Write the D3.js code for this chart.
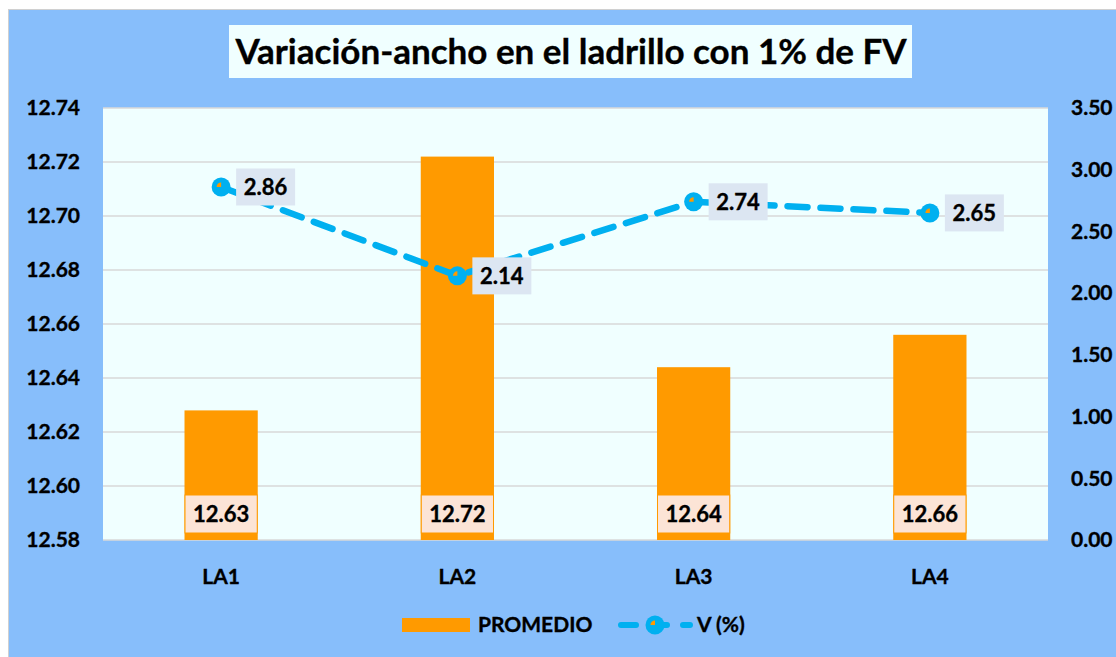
<!DOCTYPE html>
<html>
<head>
<meta charset="utf-8">
<script src="https://cdn.jsdelivr.net/npm/d3@7"></script>
<style>
  body { margin: 0; background: #fff; }
  text { font-family: Lato, "Open Sans", sans-serif; font-weight: bold; fill: #000; stroke: #000; stroke-width: 0.35px; }
</style>
</head>
<body>
<svg id="chart" width="1116" height="657"></svg>
<script>
// chart data
var categories = ["LA1", "LA2", "LA3", "LA4"];
var promedio = [12.628, 12.722, 12.644, 12.656];
var promedioLabels = ["12.63", "12.72", "12.64", "12.66"];
var variacion = [2.86, 2.14, 2.74, 2.65];
var leftTicks = [12.58, 12.60, 12.62, 12.64, 12.66, 12.68, 12.70, 12.72, 12.74];
var rightTicks = [0, 0.5, 1, 1.5, 2, 2.5, 3, 3.5];

var svg = d3.select("#chart");
var plot = { left: 103, right: 1048, top: 108, bottom: 540 };
var orange = "#FF9A00", blue = "#00B0F0";

// background + frame
svg.append("rect").attr("x", 8.5).attr("y", 9.5).attr("width", 1120).attr("height", 660)
  .attr("fill", "#87BEFB").attr("stroke", "#D0D0D0");
svg.append("rect").attr("x", plot.left).attr("y", plot.top)
  .attr("width", plot.right - plot.left).attr("height", plot.bottom - plot.top)
  .attr("fill", "#F0FFFF");

// title
svg.append("rect").attr("x", 229).attr("y", 25).attr("width", 683).attr("height", 53).attr("fill", "#F0FFFF");
svg.append("text").attr("x", 571).attr("y", 64).attr("text-anchor", "middle")
  .style("font-size", "35px").text("Variación-ancho en el ladrillo con 1% de FV");

var x = d3.scaleBand().domain(categories).range([plot.left, plot.right])
  .paddingInner(0.69).paddingOuter(0.345);
var yL = d3.scaleLinear().domain([12.58, 12.74]).range([plot.bottom, plot.top]);
var yR = d3.scaleLinear().domain([0, 3.5]).range([plot.bottom, plot.top]);

// gridlines
svg.append("g").selectAll("line").data(leftTicks).enter().append("line")
  .attr("x1", plot.left).attr("x2", plot.right)
  .attr("y1", function(d) { return yL(d); }).attr("y2", function(d) { return yL(d); })
  .attr("stroke", "#D9D9D9").attr("stroke-width", 1.5);

// axes
var axL = svg.append("g").attr("transform", "translate(" + plot.left + ",0)")
  .call(d3.axisLeft(yL).tickValues(leftTicks).tickFormat(d3.format(".2f")).tickSize(0).tickPadding(23));
var axR = svg.append("g").attr("transform", "translate(" + plot.right + ",0)")
  .call(d3.axisRight(yR).tickValues(rightTicks).tickFormat(d3.format(".2f")).tickSize(0).tickPadding(23));
var axB = svg.append("g").attr("transform", "translate(0," + plot.bottom + ")")
  .call(d3.axisBottom(x).tickSize(0).tickPadding(29));
[axL, axR, axB].forEach(function(a) {
  a.select(".domain").remove();
  a.selectAll("text").style("font-size", "21px").style("font-family", null).attr("fill", "#000");
});

// bars
svg.append("g").selectAll("rect").data(promedio).enter().append("rect")
  .attr("x", function(d, i) { return x(categories[i]); })
  .attr("y", function(d) { return yL(d); })
  .attr("width", x.bandwidth())
  .attr("height", function(d) { return plot.bottom - yL(d); })
  .attr("fill", orange);

// bar labels
var bl = svg.append("g").selectAll("g").data(promedioLabels).enter().append("g")
  .attr("transform", function(d, i) { return "translate(" + (x(categories[i]) + x.bandwidth() / 2) + ",514)"; });
bl.append("rect").attr("x", -x.bandwidth() / 2 + 0.5).attr("y", -19).attr("width", x.bandwidth() - 1).attr("height", 38)
  .attr("fill", "#FCE4D6").attr("stroke", orange).attr("stroke-width", 1);
bl.append("text").attr("text-anchor", "middle").attr("y", 8).style("font-size", "22px").text(function(d) { return d; });

// line
var line = d3.line()
  .x(function(d, i) { return x(categories[i]) + x.bandwidth() / 2; })
  .y(function(d) { return yR(d); });
svg.append("path").datum(variacion).attr("d", line)
  .attr("fill", "none").attr("stroke", blue).attr("stroke-width", 6.5)
  .attr("stroke-linecap", "round").attr("stroke-dasharray", "20,13");

function marker(g) {
  g.append("circle").attr("r", 9.5).attr("fill", blue);
  g.append("path").attr("d", d3.arc().innerRadius(0).outerRadius(4.5).startAngle(-Math.PI / 2).endAngle(0)())
    .attr("fill", orange);
}
var pts = svg.append("g").selectAll("g").data(variacion).enter().append("g")
  .attr("transform", function(d, i) { return "translate(" + (x(categories[i]) + x.bandwidth() / 2) + "," + yR(d) + ")"; });
pts.each(function() { marker(d3.select(this)); });

// line labels
var ll = svg.append("g").selectAll("g").data(variacion).enter().append("g")
  .attr("transform", function(d, i) { return "translate(" + (x(categories[i]) + x.bandwidth() / 2 + 15) + "," + yR(d) + ")"; });
ll.append("rect").attr("x", 0).attr("y", -18.5).attr("width", 59).attr("height", 37).attr("fill", "#DCE6F2");
ll.append("text").attr("x", 29.5).attr("y", 8).attr("text-anchor", "middle").style("font-size", "22px")
  .text(function(d) { return d3.format(".2f")(d); });

// legend
var lg = svg.append("g").attr("transform", "translate(0,625)");
lg.append("rect").attr("x", 402).attr("y", -7).attr("width", 68).attr("height", 14).attr("fill", orange);
lg.append("text").attr("x", 478).attr("y", 7).style("font-size", "21px").text("PROMEDIO");
lg.append("line").attr("x1", 621).attr("x2", 690).attr("y1", 0).attr("y2", 0)
  .attr("stroke", blue).attr("stroke-width", 6).attr("stroke-linecap", "round").attr("stroke-dasharray", "15,16");
var lm = lg.append("g").attr("transform", "translate(655,0)");
marker(lm);
lg.append("text").attr("x", 697).attr("y", 7).style("font-size", "21px").text("V (%)");
</script>
</body>
</html>
